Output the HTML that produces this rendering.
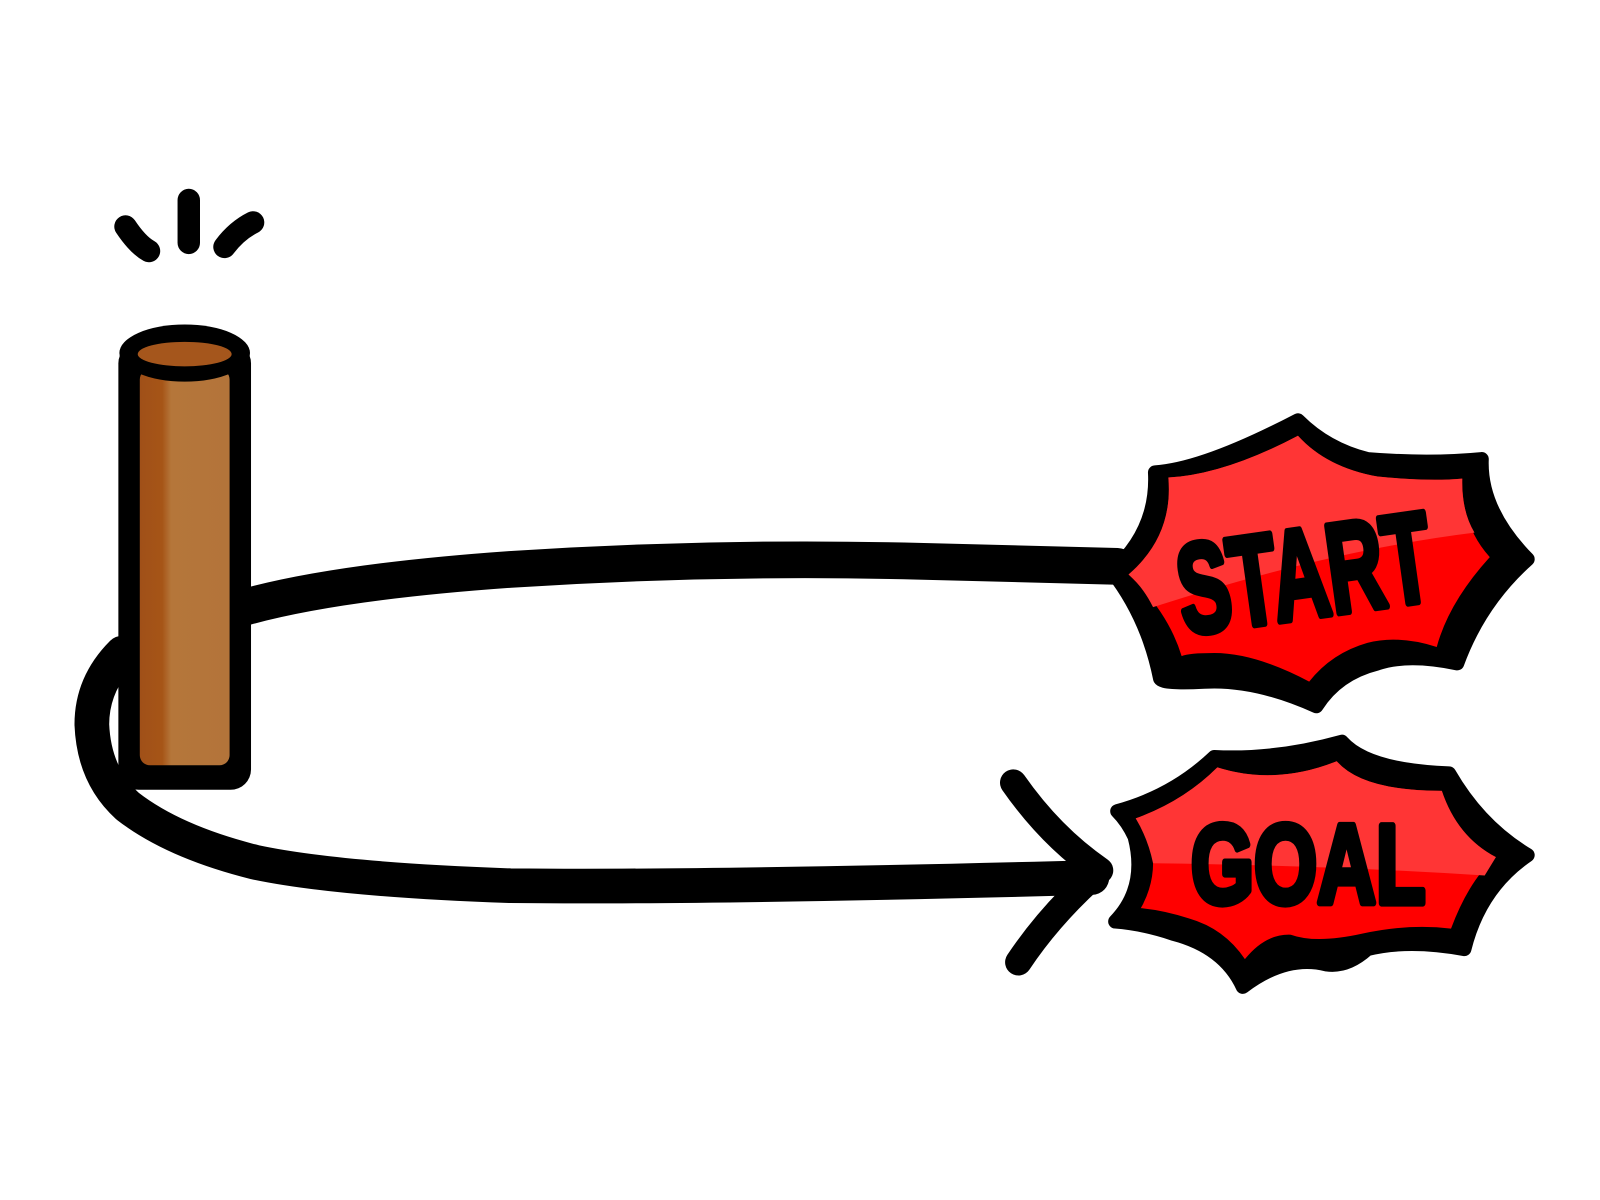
<!DOCTYPE html>
<html><head><style>html,body{margin:0;padding:0;background:#fff}svg{display:block}</style></head>
<body>
<svg width="1600" height="1200" viewBox="0 0 1568 1176" xmlns="http://www.w3.org/2000/svg">
<defs>
<linearGradient id="wood" x1="0" x2="1"><stop offset="0" stop-color="#a05018"/><stop offset="0.25" stop-color="#a65517"/><stop offset="0.35" stop-color="#b5763a"/><stop offset="1" stop-color="#b3743a"/></linearGradient>
</defs>
<g stroke="#000" stroke-linecap="round" fill="none">
<path d="M123 222 Q135 240 146 246" stroke-width="22"/>
<path d="M185 196 L185 238" stroke-width="22"/>
<path d="M220 242 Q232 226 248 218" stroke-width="22"/>
</g>
<path d="M240 595 Q330 570 500 558 Q700 545 900 550 Q1000 553 1095 555" stroke="#000" stroke-width="36" fill="none" stroke-linecap="round"/>
<path d="M120 640 Q90 670 90 710 Q92 760 125 790 Q170 825 250 845 Q330 862 500 868 Q700 870 1070 860" stroke="#000" stroke-width="34" fill="none" stroke-linecap="round"/>
<path d="M993 767 Q1030 820 1078 853 Q1030 895 998 943" stroke="#000" stroke-width="26" fill="none" stroke-linecap="round" stroke-linejoin="round"/>
<!-- post -->
<rect x="116" y="336" width="130" height="438" rx="20" fill="#000"/>
<rect x="137" y="362" width="88" height="388" rx="10" fill="url(#wood)"/>
<ellipse cx="181" cy="346" rx="64" ry="28" fill="#000"/>
<ellipse cx="181" cy="347" rx="46" ry="12" fill="#a5561c"/>
<!-- START burst -->
<path d="M1132 463 Q1180 460 1272 412 Q1300 440 1340 450 Q1400 455 1452 450 Q1450 500 1497 548 Q1450 590 1428 650 Q1380 640 1350 650 Q1310 660 1290 692 Q1230 665 1180 668 Q1140 670 1137 665 Q1125 605 1090 560 Q1135 520 1132 463 Z" fill="#000" stroke="#000" stroke-width="14" stroke-linejoin="round"/>
<path d="M1145 468 Q1200 465 1272 427 Q1300 458 1350 467 Q1400 472 1433 469 Q1432 515 1460 546 Q1420 590 1408 634 Q1370 622 1340 630 Q1305 640 1283 668 Q1230 640 1190 640 Q1165 640 1158 643 Q1145 600 1106 563 Q1150 525 1145 468 Z" fill="#ff0000"/>
<path d="M1145 468 Q1200 465 1272 427 Q1300 458 1350 467 Q1400 472 1433 469 Q1432 500 1445 522 Q1300 540 1130 595 Q1120 575 1106 563 Q1150 525 1145 468 Z" fill="#ff3535"/>
<!-- GOAL burst -->
<path d="M1095 795 Q1150 780 1190 742 Q1250 745 1315 727 Q1340 755 1420 758 Q1450 810 1497 838 Q1450 870 1435 930 Q1380 920 1340 930 Q1320 948 1300 945 Q1260 935 1218 967 Q1200 928 1150 915 Q1120 905 1093 903 Q1125 870 1112 820 Q1105 805 1095 795 Z" fill="#000" stroke="#000" stroke-width="14" stroke-linejoin="round"/>
<path d="M1113 802 Q1160 785 1193 752 Q1250 770 1310 746 Q1335 775 1413 775 Q1428 820 1466 840 Q1440 862 1422 910 Q1380 905 1335 915 Q1290 925 1265 916 Q1240 915 1220 940 Q1200 910 1165 900 Q1140 892 1118 890 Q1135 860 1128 825 Q1122 812 1113 802 Z" fill="#ff0000"/>
<path d="M1113 802 Q1160 785 1193 752 Q1250 770 1310 746 Q1335 775 1413 775 Q1428 820 1466 840 L1455 858 Q1300 848 1130 846 Q1125 822 1113 802 Z" fill="#ff3535"/>
<g font-family="Liberation Sans, sans-serif" font-weight="bold" fill="#000" stroke="#000" stroke-width="7" stroke-linejoin="round">
<text x="1278" y="605" font-size="125" text-anchor="middle" transform="rotate(-8 1278 560)" textLength="250" lengthAdjust="spacingAndGlyphs">START</text>
<text x="1282" y="885" font-size="110" text-anchor="middle" textLength="230" lengthAdjust="spacingAndGlyphs">GOAL</text>
</g>
</svg>
</body></html>
